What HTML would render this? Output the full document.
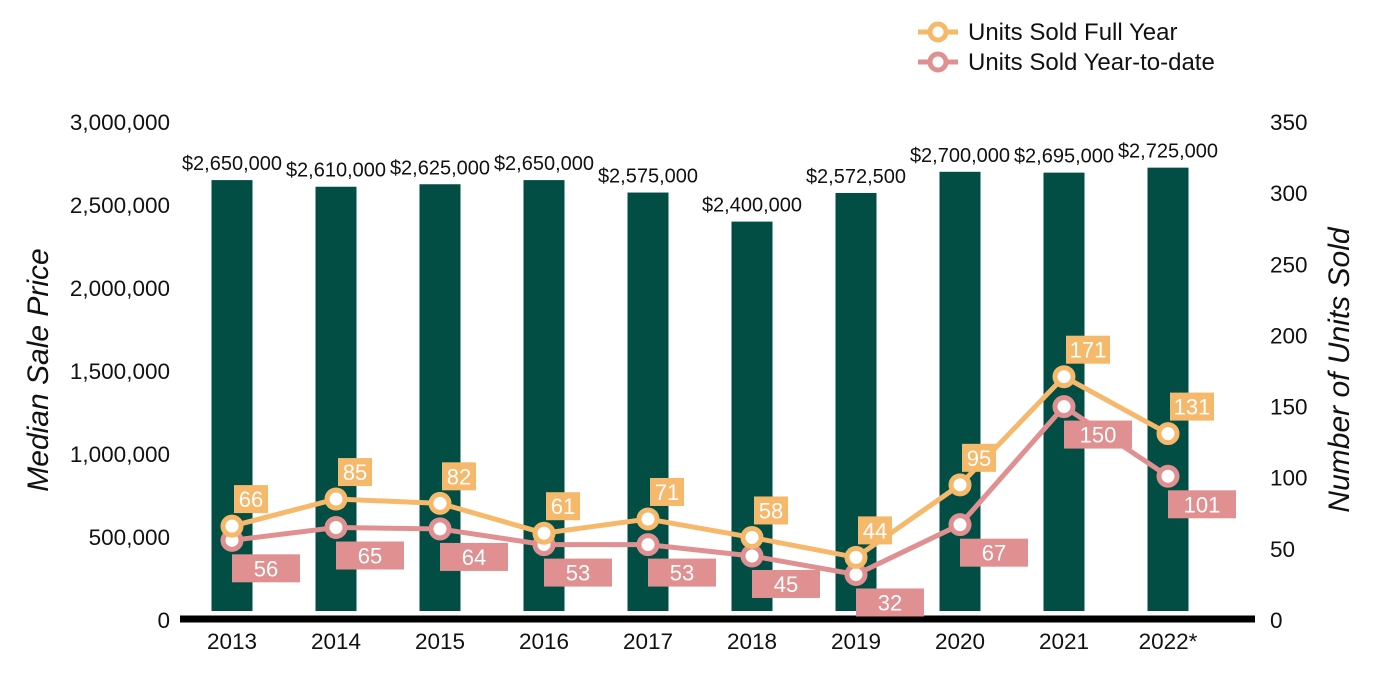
<!DOCTYPE html>
<html><head><meta charset="utf-8"><style>
body{margin:0;background:#fff;}
svg{display:block;font-family:"Liberation Sans",Arial,sans-serif;}
</style></head><body>
<svg id="chart" width="1400" height="700" viewBox="0 0 1400 700">
<g id="legend">
  <g>
    <line x1="918" y1="32" x2="958" y2="32" stroke="#F6B86A" stroke-width="5"/>
    <circle cx="938" cy="32" r="8" fill="#fff" stroke="#F6B86A" stroke-width="5"/>
    <text x="968" y="40" font-size="24" fill="#111">Units Sold Full Year</text>
  </g>
  <g>
    <line x1="918" y1="62" x2="958" y2="62" stroke="#E09090" stroke-width="5"/>
    <circle cx="938" cy="62" r="8" fill="#fff" stroke="#E09090" stroke-width="5"/>
    <text x="968" y="70" font-size="24" fill="#111">Units Sold Year-to-date</text>
  </g>
</g>
<text transform="translate(48,370) rotate(-90)" text-anchor="middle" font-size="30" font-style="italic" fill="#111">Median Sale Price</text>
<text transform="translate(1349,370) rotate(-90)" text-anchor="middle" font-size="30" font-style="italic" fill="#111">Number of Units Sold</text>
<g id="g"></g>
</svg>
<script>
const categories=["2013","2014","2015","2016","2017","2018","2019","2020","2021","2022*"];
const prices=[2650000,2610000,2625000,2650000,2575000,2400000,2572500,2700000,2695000,2725000];
const priceLabels=["$2,650,000","$2,610,000","$2,625,000","$2,650,000","$2,575,000","$2,400,000","$2,572,500","$2,700,000","$2,695,000","$2,725,000"];
const fullYear=[66,85,82,61,71,58,44,95,171,131];
const ytd=[56,65,64,53,53,45,32,67,150,101];
const leftTicks=[0,500000,1000000,1500000,2000000,2500000,3000000];
const rightTicks=[0,50,100,150,200,250,300,350];

const NS="http://www.w3.org/2000/svg";
const g=document.getElementById('g');
const Y0=620,YT=122;
const yL=v=>Y0-v/3000000*(Y0-YT);
const yR=v=>Y0-v/350*(Y0-YT);
const xC=i=>232+i*104;
function mk(t,a,txt){const e=document.createElementNS(NS,t);for(const k in a)e.setAttribute(k,a[k]);if(txt!==undefined)e.textContent=txt;g.appendChild(e);return e;}
leftTicks.forEach(v=>{const e=mk('text',{x:170,y:yL(v)+8,'text-anchor':'end','font-size':22.5,fill:'#111'},v.toLocaleString('en-US'));

});
rightTicks.forEach(v=>{const e=mk('text',{x:1270,y:yR(v)+8,'font-size':22.5,fill:'#111'},String(v));

});
prices.forEach((p,i)=>{const b=mk('rect',{x:xC(i)-20.5,y:yL(p),width:41,height:611-yL(p),fill:'#024D44'});


const t=mk('text',{x:xC(i),y:yL(p)-10,'text-anchor':'middle','font-size':20,fill:'#111'},priceLabels[i]);

});
const ax=mk('line',{x1:180,y1:619,x2:1255,y2:619,stroke:'#000','stroke-width':7});


categories.forEach((c,i)=>{const t=mk('text',{x:xC(i),y:649,'text-anchor':'middle','font-size':22.5,fill:'#111'},c);

});
function series(vals,col,name,labelAbove){
 const l=mk('polyline',{points:vals.map((v,i)=>xC(i)+','+yR(v)).join(' '),fill:'none',stroke:col,'stroke-width':5});
 
 
 vals.forEach((v,i)=>{
  const c=mk('circle',{cx:xC(i),cy:yR(v),r:9,fill:'#fff',stroke:col,'stroke-width':5});
  
  
  const s=String(v);let bx,by,bw;
  if(labelAbove){bw=s.length>2?44:34;bx=xC(i)+2;by=yR(v)-41;}
  else{bw=68;bx=xC(i);by=yR(v)+14;}
  const r=mk('rect',{x:bx,y:by,width:bw,height:28,fill:col});
  
  
  const t=mk('text',{x:bx+bw/2,y:by+22,'text-anchor':'middle','font-size':22,fill:'#fff'},s);
  
  
 });
}
series(ytd,'#E09090','ytd',false);
series(fullYear,'#F6B86A','full-year',true);
</script>
</body></html>
